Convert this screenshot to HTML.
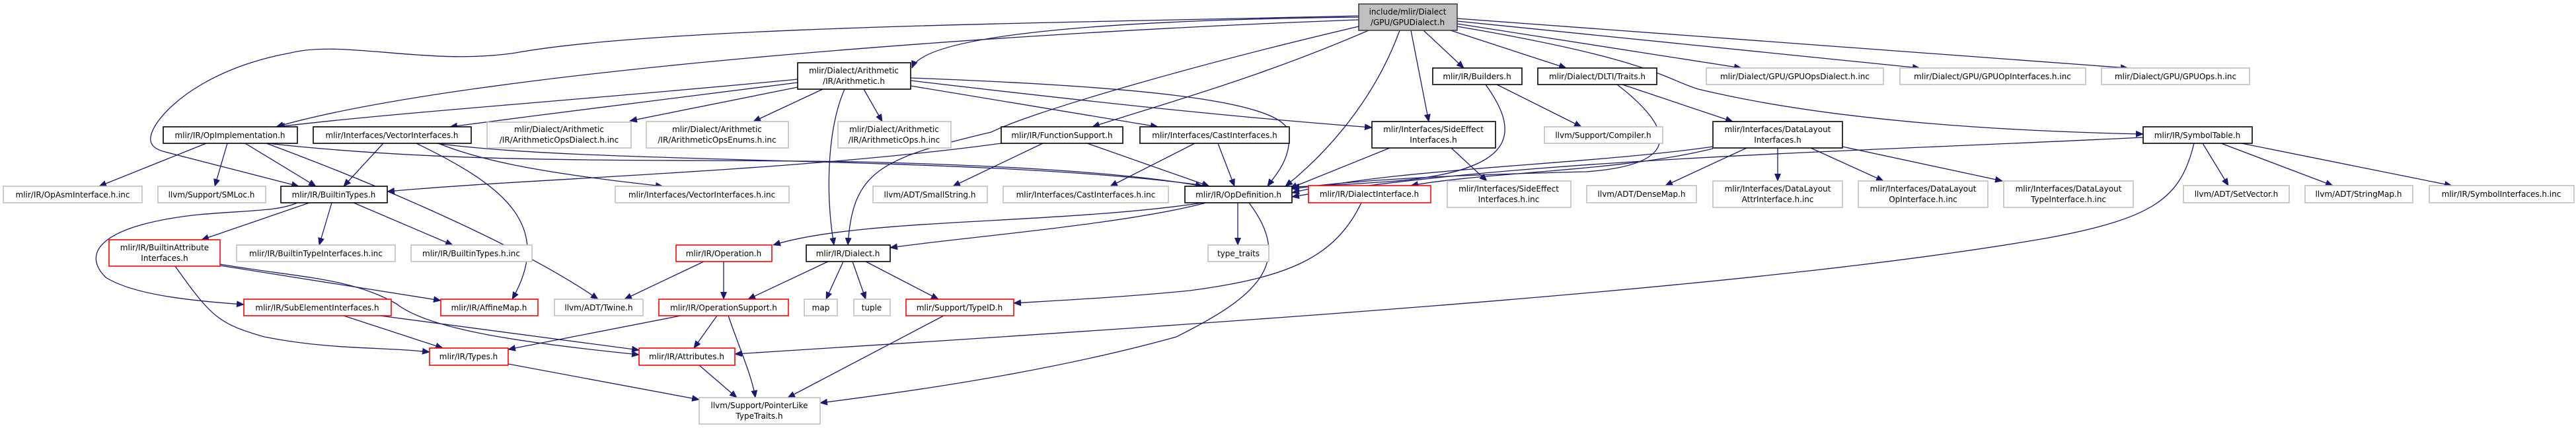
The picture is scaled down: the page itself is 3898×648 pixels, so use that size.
<!DOCTYPE html>
<html><head><meta charset="utf-8"><style>
html,body{margin:0;padding:0;background:#fff;}
svg{display:block;}
text{font-family:"DejaVu Sans","Liberation Sans",sans-serif;font-size:12px;fill:#000;text-anchor:middle;}
.b{fill:#fff;stroke:#000;stroke-width:1.6}
.g{fill:#fff;stroke:#bfbfbf;stroke-width:1.6}
.r{fill:#fff;stroke:#ff0000;stroke-width:1.6}
.e{fill:none;stroke:#191970;stroke-width:1.3}
</style></head><body>
<svg width="3898" height="648" viewBox="0 0 3898 648" xmlns="http://www.w3.org/2000/svg">
<defs><marker id="a" markerUnits="userSpaceOnUse" markerWidth="12" markerHeight="10" refX="11" refY="5" orient="auto"><path d="M0,0 L12,5 L0,10 Z" fill="#191970"/></marker></defs>
<g marker-end="url(#a)">
<!-- root -->
<path class="e" d="M2056,26 C1700,30 1400,50 1380,103"/>
<path class="e" d="M2056,30 C1500,50 700,110 418,192"/>
<path class="e" d="M2056,24 C1600,35 1000,40 780,80 C650,100 520,60 440,80 C330,100 260,150 235,190 C220,215 230,225 250,230 L452,282"/>
<path class="e" d="M2071,46 C1900,120 1750,160 1653,192"/>
<path class="e" d="M2118,46 C2080,150 2010,230 1945,282"/>
<path class="e" d="M2135,46 L2162,184"/>
<path class="e" d="M2154,46 L2215,103"/>
<path class="e" d="M2195,46 L2370,103"/>
<path class="e" d="M2205,36 L2635,103"/>
<path class="e" d="M2205,32 L2905,103"/>
<path class="e" d="M2205,28 L3220,103"/>
<path class="e" d="M2205,40 C2500,90 2520,120 2570,135 C2800,190 3100,200 3243,203"/>
<path class="e" d="M2056,40 C1800,100 1560,170 1500,200 C1330,240 1290,260 1283,371"/>
<!-- arithmetic -->
<path class="e" d="M1207,120 C900,150 600,170 420,192"/>
<path class="e" d="M1207,125 C1000,150 850,170 681,192"/>
<path class="e" d="M1207,132 L953,183"/>
<path class="e" d="M1245,135 L1140,184"/>
<path class="e" d="M1307,135 L1335,184"/>
<path class="e" d="M1278,135 C1250,200 1250,300 1262,371"/>
<path class="e" d="M1378,130 L1752,192"/>
<path class="e" d="M1378,118 C1700,130 1940,150 1950,200 C1955,240 1930,265 1918,282"/>
<path class="e" d="M1378,122 C1700,160 1900,180 2076,193"/>
<!-- OpImplementation -->
<path class="e" d="M312,217 L150,282"/>
<path class="e" d="M344,217 L325,282"/>
<path class="e" d="M371,217 L478,282"/>
<path class="e" d="M403,217 C600,290 800,380 905,453"/>
<path class="e" d="M405,217 C700,250 1000,240 1300,245 C1500,250 1700,260 1820,282"/>
<!-- VectorInterfaces -->
<path class="e" d="M580,217 L520,282"/>
<path class="e" d="M630,217 C760,280 840,340 775,453"/>
<path class="e" d="M663,217 C720,240 800,260 1003,282"/>
<path class="e" d="M660,217 C900,250 1500,235 1830,282"/>
<!-- FunctionSupport -->
<path class="e" d="M1515,217 C1200,260 800,270 586,290"/>
<path class="e" d="M1578,217 L1442,282"/>
<path class="e" d="M1645,217 L1830,282"/>
<!-- CastInterfaces -->
<path class="e" d="M1808,217 L1680,282"/>
<path class="e" d="M1843,217 L1868,282"/>
<!-- OpDefinition -->
<path class="e" d="M1820,307 C1600,340 1300,330 1170,371"/>
<path class="e" d="M1825,307 C1700,340 1450,360 1347,375"/>
<path class="e" d="M1873,307 L1873,371"/>
<path class="e" d="M1890,307 C1960,400 1900,450 1780,510 C1600,560 1400,590 1241,610"/>
<!-- Builders -->
<path class="e" d="M2248,128 C2300,200 2300,260 2100,275 C2030,280 1990,282 1955,283"/>
<path class="e" d="M2265,128 L2393,192"/>
<!-- DLTI -->
<path class="e" d="M2447,128 C2540,200 2540,250 2400,260 C2200,265 2050,272 1955,286"/>
<path class="e" d="M2455,128 L2622,184"/>
<!-- SideEffect -->
<path class="e" d="M2103,224 L1952,285"/>
<path class="e" d="M2196,224 L2250,274"/>
<!-- DataLayout -->
<path class="e" d="M2592,222 C2400,250 2100,255 1955,292"/>
<path class="e" d="M2592,225 C2450,260 2250,260 2135,281"/>
<path class="e" d="M2643,224 L2520,281"/>
<path class="e" d="M2690,224 L2690,274"/>
<path class="e" d="M2740,224 L2850,274"/>
<path class="e" d="M2788,222 L3030,274"/>
<!-- SymbolTable -->
<path class="e" d="M3243,208 C2800,230 2300,240 1955,298"/>
<path class="e" d="M3320,217 C3300,300 3260,330 3100,360 C2700,430 2000,480 1112,536"/>
<path class="e" d="M3333,217 L3372,281"/>
<path class="e" d="M3361,217 L3530,281"/>
<path class="e" d="M3392,217 L3710,281"/>
<!-- DialectInterface -->
<path class="e" d="M2060,307 C2020,390 1950,420 1800,440 C1700,450 1600,455 1534,459"/>
<!-- Dialect -->
<path class="e" d="M1253,396 L1132,453"/>
<path class="e" d="M1276,396 L1250,453"/>
<path class="e" d="M1290,396 L1310,453"/>
<path class="e" d="M1310,396 L1420,453"/>
<!-- Operation -->
<path class="e" d="M1095,396 L1095,453"/>
<path class="e" d="M1065,396 L945,453"/>
<!-- OperationSupport -->
<path class="e" d="M1030,478 L769,529"/>
<path class="e" d="M1085,478 L1050,527"/>
<path class="e" d="M1102,478 C1120,530 1138,570 1143,602"/>
<path class="e" d="M1058,553 L1115,602"/>
<path class="e" d="M1428,478 L1192,602"/>
<path class="e" d="M769,551 L1058,605"/>
<!-- BuiltinTypes -->
<path class="e" d="M468,307 L305,363"/>
<path class="e" d="M502,307 L483,371"/>
<path class="e" d="M535,307 L685,371"/>
<path class="e" d="M450,307 C420,320 380,318 300,325 C160,340 120,380 160,420 C200,445 280,455 369,461"/>
<!-- BuiltinAttributeInterfaces -->
<path class="e" d="M333,402 L667,455"/>
<path class="e" d="M265,403 C320,480 330,490 400,510 C500,530 580,525 650,533"/>
<path class="e" d="M333,400 C450,420 530,420 600,460 C650,500 800,520 967,537"/>
<!-- SubElement -->
<path class="e" d="M520,478 L670,527"/>
<path class="e" d="M575,478 L967,530"/>
</g>
<!-- nodes -->
<rect class="g" x="2056" y="6" width="149" height="40" style="fill:#bfbfbf;stroke:#404040"/><text x="2130" y="22">include/mlir/Dialect</text><text x="2130" y="38">/GPU/GPUDialect.h</text>
<rect class="b" x="1207" y="95" width="171" height="40"/><text x="1292" y="111">mlir/Dialect/Arithmetic</text><text x="1292" y="127">/IR/Arithmetic.h</text>
<rect class="b" x="2168" y="103" width="135" height="25"/><text x="2235" y="120">mlir/IR/Builders.h</text>
<rect class="b" x="2327" y="103" width="180" height="25"/><text x="2417" y="120">mlir/Dialect/DLTI/Traits.h</text>
<rect class="g" x="2582" y="103" width="268" height="25"/><text x="2716" y="120">mlir/Dialect/GPU/GPUOpsDialect.h.inc</text>
<rect class="g" x="2875" y="103" width="281" height="25"/><text x="3015" y="120">mlir/Dialect/GPU/GPUOpInterfaces.h.inc</text>
<rect class="g" x="3180" y="103" width="224" height="25"/><text x="3292" y="120">mlir/Dialect/GPU/GPUOps.h.inc</text>
<rect class="b" x="247" y="192" width="203" height="25"/><text x="348" y="209">mlir/IR/OpImplementation.h</text>
<rect class="b" x="474" y="192" width="239" height="25"/><text x="593" y="209">mlir/Interfaces/VectorInterfaces.h</text>
<rect class="g" x="737" y="185" width="218" height="39"/><text x="846" y="200">mlir/Dialect/Arithmetic</text><text x="846" y="216">/IR/ArithmeticOpsDialect.h.inc</text>
<rect class="g" x="978" y="184" width="215" height="40"/><text x="1085" y="200">mlir/Dialect/Arithmetic</text><text x="1085" y="216">/IR/ArithmeticOpsEnums.h.inc</text>
<rect class="g" x="1268" y="184" width="171" height="40"/><text x="1353" y="200">mlir/Dialect/Arithmetic</text><text x="1353" y="216">/IR/ArithmeticOps.h.inc</text>
<rect class="b" x="1515" y="192" width="184" height="25"/><text x="1607" y="209">mlir/IR/FunctionSupport.h</text>
<rect class="b" x="1725" y="192" width="226" height="25"/><text x="1838" y="209">mlir/Interfaces/CastInterfaces.h</text>
<rect class="b" x="2076" y="184" width="187" height="40"/><text x="2169" y="200">mlir/Interfaces/SideEffect</text><text x="2169" y="216">Interfaces.h</text>
<rect class="g" x="2337" y="192" width="179" height="25"/><text x="2426" y="209">llvm/Support/Compiler.h</text>
<rect class="b" x="2592" y="184" width="196" height="40"/><text x="2690" y="200">mlir/Interfaces/DataLayout</text><text x="2690" y="216">Interfaces.h</text>
<rect class="b" x="3243" y="192" width="165" height="25"/><text x="3325" y="209">mlir/IR/SymbolTable.h</text>
<rect class="g" x="5" y="282" width="210" height="25"/><text x="110" y="299">mlir/IR/OpAsmInterface.h.inc</text>
<rect class="g" x="239" y="282" width="163" height="25"/><text x="320" y="299">llvm/Support/SMLoc.h</text>
<rect class="b" x="425" y="282" width="161" height="25"/><text x="505" y="299">mlir/IR/BuiltinTypes.h</text>
<rect class="g" x="931" y="282" width="263" height="25"/><text x="1062" y="299">mlir/Interfaces/VectorInterfaces.h.inc</text>
<rect class="g" x="1321" y="282" width="173" height="25"/><text x="1407" y="299">llvm/ADT/SmallString.h</text>
<rect class="g" x="1518" y="282" width="250" height="25"/><text x="1643" y="299">mlir/Interfaces/CastInterfaces.h.inc</text>
<rect class="b" x="1793" y="282" width="162" height="25"/><text x="1874" y="299">mlir/IR/OpDefinition.h</text>
<rect class="r" x="1980" y="281" width="185" height="26"/><text x="2072" y="298">mlir/IR/DialectInterface.h</text>
<rect class="g" x="2190" y="274" width="187" height="40"/><text x="2283" y="290">mlir/Interfaces/SideEffect</text><text x="2283" y="306">Interfaces.h.inc</text>
<rect class="g" x="2401" y="281" width="166" height="26"/><text x="2484" y="298">llvm/ADT/DenseMap.h</text>
<rect class="g" x="2592" y="274" width="196" height="40"/><text x="2690" y="290">mlir/Interfaces/DataLayout</text><text x="2690" y="306">AttrInterface.h.inc</text>
<rect class="g" x="2812" y="274" width="196" height="40"/><text x="2910" y="290">mlir/Interfaces/DataLayout</text><text x="2910" y="306">OpInterface.h.inc</text>
<rect class="g" x="3032" y="274" width="196" height="40"/><text x="3130" y="290">mlir/Interfaces/DataLayout</text><text x="3130" y="306">TypeInterface.h.inc</text>
<rect class="g" x="3304" y="281" width="160" height="26"/><text x="3384" y="298">llvm/ADT/SetVector.h</text>
<rect class="g" x="3488" y="281" width="163" height="26"/><text x="3569" y="298">llvm/ADT/StringMap.h</text>
<rect class="g" x="3676" y="281" width="219" height="26"/><text x="3785" y="298">mlir/IR/SymbolInterfaces.h.inc</text>
<rect class="r" x="165" y="363" width="168" height="40"/><text x="249" y="379">mlir/IR/BuiltinAttribute</text><text x="249" y="395">Interfaces.h</text>
<rect class="g" x="358" y="371" width="240" height="25"/><text x="478" y="388">mlir/IR/BuiltinTypeInterfaces.h.inc</text>
<rect class="g" x="622" y="371" width="183" height="25"/><text x="713" y="388">mlir/IR/BuiltinTypes.h.inc</text>
<rect class="r" x="1023" y="371" width="145" height="25"/><text x="1095" y="388">mlir/IR/Operation.h</text>
<rect class="b" x="1220" y="371" width="127" height="25"/><text x="1283" y="388">mlir/IR/Dialect.h</text>
<rect class="g" x="1828" y="371" width="92" height="25"/><text x="1874" y="388">type_traits</text>
<rect class="r" x="369" y="453" width="223" height="25"/><text x="480" y="470">mlir/IR/SubElementInterfaces.h</text>
<rect class="r" x="667" y="453" width="147" height="25"/><text x="740" y="470">mlir/IR/AffineMap.h</text>
<rect class="g" x="839" y="453" width="134" height="25"/><text x="906" y="470">llvm/ADT/Twine.h</text>
<rect class="r" x="997" y="453" width="196" height="25"/><text x="1095" y="470">mlir/IR/OperationSupport.h</text>
<rect class="g" x="1217" y="453" width="50" height="25"/><text x="1242" y="470">map</text>
<rect class="g" x="1292" y="453" width="55" height="25"/><text x="1319" y="470">tuple</text>
<rect class="r" x="1371" y="453" width="163" height="25"/><text x="1452" y="470">mlir/Support/TypeID.h</text>
<rect class="r" x="650" y="527" width="119" height="26"/><text x="709" y="544">mlir/IR/Types.h</text>
<rect class="r" x="967" y="527" width="145" height="26"/><text x="1039" y="544">mlir/IR/Attributes.h</text>
<rect class="g" x="1058" y="602" width="183" height="40"/><text x="1149" y="618">llvm/Support/PointerLike</text><text x="1149" y="634">TypeTraits.h</text>
</svg>
</body></html>
